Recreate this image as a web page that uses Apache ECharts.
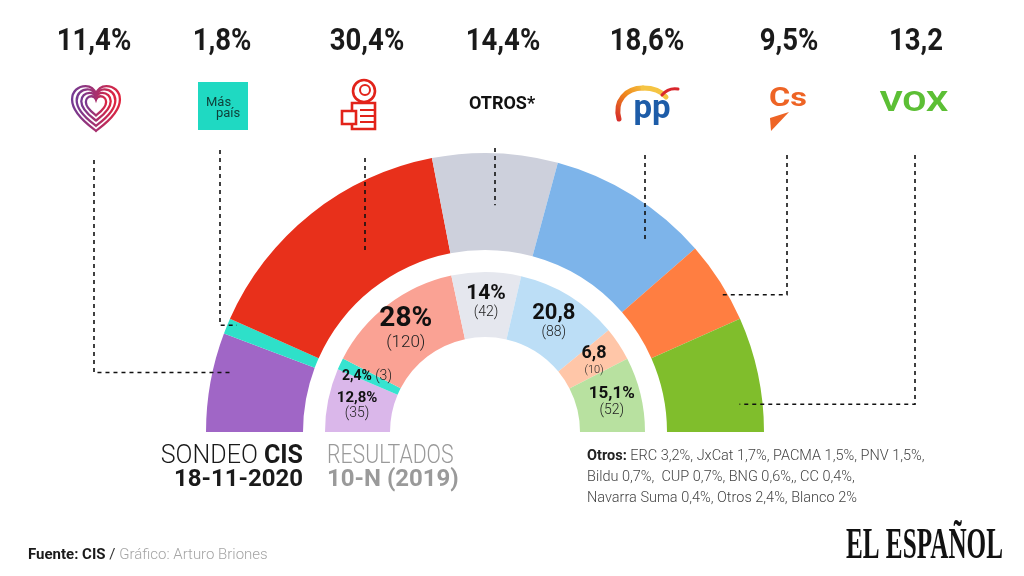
<!DOCTYPE html>
<html>
<head>
<meta charset="utf-8">
<script src="https://cdn.jsdelivr.net/npm/echarts@6/dist/echarts.min.js"></script>
<style>html,body{margin:0;padding:0;background:#fff}#c{width:1024px;height:576px}</style>
</head>
<body>
<div id="c"></div>
<script>
// ---------- DATA ----------
const parties = ['Unidas Podemos', 'Más País', 'PSOE', 'Otros', 'PP', 'Cs', 'Vox'];
const survey2020 = [11.4, 1.8, 30.4, 14.4, 18.6, 9.5, 13.2];      // Sondeo CIS 18-11-2020 (%)
const results2019 = [12.8, 2.4, 28, 14, 20.8, 6.8, 15.1];          // Resultados 10-N 2019 (%)
const seats2019 = [35, 3, 120, 42, 88, 10, 52];                    // escaños 10-N
const surveySuffix = ['%', '%', '%', '%', '%', '%', ''];
const resultSuffix = ['%', '%', '%', '%', '', '', '%'];
const otrosLines = [
  'ERC 3,2%, JxCat 1,7%, PACMA 1,5%, PNV 1,5%,',
  'Bildu 0,7%,  CUP 0,7%, BNG 0,6%,, CC 0,4%,',
  'Navarra Suma 0,4%, Otros 2,4%, Blanco 2%'
];

// ---------- STYLE / LAYOUT ----------
const outerColors = ['#A066C6', '#2EE0C9', '#E8301B', '#CDD0DC', '#7DB4EA', '#FF7E41', '#80BE2C'];
const innerColors = ['#DAB7EA', '#36E3D0', '#FAA294', '#E5E7EE', '#BCDEF6', '#FFC6A8', '#B8E1A0'];
const CX = 485, CY = 432;
const OUTER_R = [182, 279], INNER_R = [95, 160];
const labelX = [94, 222, 367, 503, 647, 789, 916];
const lineX = [94, 220, 365, 495, 645, 787, 915];
const lineTop = [160, 150, 158, 148, 155, 155, 155];
const leaderKind = ['elbow', 'elbow', 'vertical', 'vertical', 'vertical', 'elbow', 'elbow'];
const anchorR = [260, 270, 218, 227, 250, 272, 256];
const anchorFrac = [0.64, 0.8, 0.5, 0.5, 0.5, 0.63, 0.74];
const valSize = [15, 14, 28, 21, 22, 18, 17];
const seatSize = [14, 14, 17, 14, 14, 11, 14];

const fmt = v => String(v).replace('.', ',');
const FONT = 'Roboto, "Noto Sans", sans-serif';

// heart shape for the Podemos logo
echarts.graphic.registerShape('heart', echarts.graphic.extendShape({
  shape: { x: 0, y: 0, width: 100, height: 90 },
  buildPath: function (ctx, s) {
    const X = v => s.x + v / 100 * s.width;
    const Y = v => s.y + v / 90 * s.height;
    ctx.moveTo(X(50), Y(88));
    ctx.bezierCurveTo(X(46), Y(84), X(4), Y(58), X(4), Y(28));
    ctx.bezierCurveTo(X(4), Y(12), X(16), Y(2), X(30), Y(2));
    ctx.bezierCurveTo(X(40), Y(2), X(47), Y(8), X(50), Y(17));
    ctx.bezierCurveTo(X(53), Y(8), X(60), Y(2), X(70), Y(2));
    ctx.bezierCurveTo(X(84), Y(2), X(96), Y(12), X(96), Y(28));
    ctx.bezierCurveTo(X(96), Y(58), X(54), Y(84), X(50), Y(88));
    ctx.closePath();
  }
}));

// rich styles for inner labels
const rich = {};
valSize.forEach((s, i) => {
  rich['v' + i] = { fontFamily: FONT, fontWeight: 'bold', fontSize: s, color: '#111', lineHeight: s + 1 };
  rich['s' + i] = { fontFamily: FONT, fontWeight: 300, fontSize: seatSize[i], color: '#222', lineHeight: seatSize[i] + 2 };
});

const chart = echarts.init(document.getElementById('c'), null, { renderer: 'canvas' });

// ---------- leader lines computed from data ----------
const total = survey2020.reduce((a, b) => a + b, 0);
let cum = 0;
const leaders = survey2020.map((v, i) => {
  const a = (cum + v * anchorFrac[i]) / total * Math.PI;
  cum += v;
  const x = lineX[i];
  let pts;
  if (leaderKind[i] === 'vertical') {
    const dx = x - CX;
    const y = CY - Math.sqrt(anchorR[i] * anchorR[i] - dx * dx);
    pts = [[x, lineTop[i]], [x, y]];
  } else {
    const ax = CX - anchorR[i] * Math.cos(a);
    const ay = CY - anchorR[i] * Math.sin(a);
    pts = [[x, lineTop[i]], [x, ay], [ax, ay]];
  }
  return {
    type: 'polyline', z: 100, silent: true,
    shape: { points: pts },
    style: { stroke: '#111', lineWidth: 1.6, lineDash: [4, 4], fill: null }
  };
});

// ---------- top value labels ----------
const topLabels = survey2020.map((v, i) => ({
  type: 'text', z: 100, x: labelX[i], y: 42, scaleX: 0.86, silent: true,
  style: { text: fmt(v) + surveySuffix[i], fontFamily: FONT, fontWeight: 'bold', fontSize: 32, fill: '#1a1a1a', align: 'center', verticalAlign: 'middle' }
}));

// ---------- logos (approximations) ----------
const heartGrad = { type: 'linear', x: 0, y: 0, x2: 1, y2: 0, colorStops: [
  { offset: 0, color: '#6E3B96' }, { offset: 0.5, color: '#A7306E' }, { offset: 1, color: '#E4233A' }] };
const hearts = [[52, 47], [42, 38], [32, 29], [22, 20]].map((s, k) => ({
  type: 'heart', z: 100, silent: true,
  shape: { x: 96 - s[0] / 2, y: 85 + k * 3.6, width: s[0], height: s[1] },
  style: { fill: null, stroke: heartGrad, lineWidth: 2.3 }
}));

const ppGrad1 = { type: 'linear', x: 0, y: 1, x2: 1, y2: 0, colorStops: [
  { offset: 0, color: '#D3232C' }, { offset: 0.6, color: '#F08A1C' }, { offset: 1, color: '#F5C443' }] };

const logos = [
  ...hearts,
  { type: 'rect', z: 100, silent: true, shape: { x: 198, y: 82, width: 50, height: 48 }, style: { fill: '#1FD9C2' } },
  { type: 'text', z: 101, silent: true, x: 206, y: 103, style: { text: 'Más', fontFamily: FONT, fontSize: 13, fill: '#0F3F39', align: 'left', verticalAlign: 'middle' } },
  { type: 'text', z: 101, silent: true, x: 216, y: 114, style: { text: 'país', fontFamily: FONT, fontSize: 13, fill: '#0F3F39', align: 'left', verticalAlign: 'middle' } },
  // PSOE rose & fist
  { type: 'circle', z: 100, silent: true, shape: { cx: 364, cy: 91, r: 11 }, style: { fill: null, stroke: '#E2231A', lineWidth: 2.6 } },
  { type: 'circle', z: 100, silent: true, shape: { cx: 365, cy: 90, r: 5 }, style: { fill: null, stroke: '#E2231A', lineWidth: 2 } },
  { type: 'rect', z: 100, silent: true, shape: { x: 352, y: 103, width: 23, height: 26 }, style: { fill: null, stroke: '#E2231A', lineWidth: 2.6 } },
  { type: 'line', z: 100, silent: true, shape: { x1: 360, y1: 110, x2: 375, y2: 110 }, style: { stroke: '#E2231A', lineWidth: 2 } },
  { type: 'line', z: 100, silent: true, shape: { x1: 360, y1: 116, x2: 375, y2: 116 }, style: { stroke: '#E2231A', lineWidth: 2 } },
  { type: 'line', z: 100, silent: true, shape: { x1: 360, y1: 122, x2: 375, y2: 122 }, style: { stroke: '#E2231A', lineWidth: 2 } },
  { type: 'rect', z: 101, silent: true, shape: { x: 342, y: 111, width: 14, height: 13 }, style: { fill: '#fff', stroke: '#E2231A', lineWidth: 2.6 } },
  // OTROS*
  { type: 'text', z: 100, silent: true, x: 502, y: 104, style: { text: 'OTROS*', fontFamily: FONT, fontWeight: 'bold', fontSize: 18, fill: '#111', align: 'center', verticalAlign: 'middle' } },
  // PP
  { type: 'bezierCurve', z: 100, silent: true, shape: { x1: 619, y1: 119, cpx1: 614, cpy1: 101, cpx2: 626, cpy2: 88, x2: 643, y2: 88 }, style: { fill: null, stroke: ppGrad1, lineWidth: 5, lineCap: 'round' } },
  { type: 'bezierCurve', z: 100, silent: true, shape: { x1: 643, y1: 88, cpx1: 655, cpy1: 88, cpx2: 662, cpy2: 92, x2: 666, y2: 97 }, style: { fill: null, stroke: '#F5C443', lineWidth: 5, lineCap: 'round' } },
  { type: 'bezierCurve', z: 100, silent: true, shape: { x1: 662, y1: 95, cpx1: 667, cpy1: 89, cpx2: 672, cpy2: 88, x2: 678, y2: 89 }, style: { fill: null, stroke: '#D9262C', lineWidth: 3, lineCap: 'round' } },
  { type: 'text', z: 101, silent: true, x: 652, y: 110, style: { text: 'pp', fontFamily: FONT, fontWeight: 'bold', fontSize: 33, fill: '#1D5CA8', align: 'center', verticalAlign: 'middle' } },
  // Cs
  { type: 'text', z: 100, silent: true, x: 788, y: 100, scaleX: 1.3, style: { text: 'Cs', fontFamily: FONT, fontWeight: 'bold', fontSize: 25, fill: '#EE6425', align: 'center', verticalAlign: 'middle' } },
  { type: 'polygon', z: 100, silent: true, shape: { points: [[770, 118], [789, 112], [771, 131]] }, style: { fill: '#EE6425' } },
  // VOX
  { type: 'text', z: 100, silent: true, x: 914, y: 104, scaleX: 1.25, style: { text: 'VOX', fontFamily: FONT, fontWeight: 'bold', fontSize: 28, fill: '#5CBF35', align: 'center', verticalAlign: 'middle' } }
];

// ---------- bottom texts ----------
const texts = [
  { type: 'text', z: 100, silent: true, x: 303, y: 457, style: {
      text: '{l|SONDEO }{b|CIS}', align: 'right', verticalAlign: 'middle',
      rich: { l: { fontFamily: FONT, fontWeight: 300, fontSize: 25, fill: '#1a1a1a' }, b: { fontFamily: FONT, fontWeight: 'bold', fontSize: 25, fill: '#1a1a1a' } } } },
  { type: 'text', z: 100, silent: true, x: 303, y: 480, style: { text: '18-11-2020', fontFamily: FONT, fontWeight: 'bold', fontSize: 24, fill: '#1a1a1a', align: 'right', verticalAlign: 'middle' } },
  { type: 'text', z: 100, silent: true, x: 327, y: 457, scaleX: 0.85, style: { text: 'RESULTADOS', fontFamily: FONT, fontWeight: 300, fontSize: 25, fill: '#9a9a9a', align: 'left', verticalAlign: 'middle' } },
  { type: 'text', z: 100, silent: true, x: 327, y: 480, style: { text: '10-N (2019)', fontFamily: FONT, fontWeight: 'bold', fontSize: 24, fill: '#9a9a9a', align: 'left', verticalAlign: 'middle' } },
  ...otrosLines.map((t, i) => ({
    type: 'text', z: 100, silent: true, x: 587, y: 456 + i * 21, style: {
      text: (i === 0 ? '{b|Otros: }' : '') + '{r|' + t + '}', align: 'left', verticalAlign: 'middle',
      rich: { b: { fontFamily: FONT, fontWeight: 'bold', fontSize: 14.5, fill: '#222' }, r: { fontFamily: FONT, fontWeight: 300, fontSize: 14.5, fill: '#444' } } }
  })),
  { type: 'text', z: 100, silent: true, x: 28, y: 555, style: {
      text: '{b|Fuente: CIS}{n| / }{g|Gráfico: Arturo Briones}', align: 'left', verticalAlign: 'middle',
      rich: { b: { fontFamily: FONT, fontWeight: 'bold', fontSize: 15, fill: '#1a1a1a' }, n: { fontFamily: FONT, fontSize: 15, fill: '#333' }, g: { fontFamily: FONT, fontWeight: 300, fontSize: 15, fill: '#a5a5a5' } } } },
  { type: 'text', z: 100, silent: true, x: 1003, y: 546, scaleX: 0.56, style: { text: 'EL ESPAÑOL', fontFamily: '"Liberation Serif", "DejaVu Serif", serif', fontWeight: 'bold', fontSize: 45, fill: '#111', align: 'right', verticalAlign: 'middle' } }
];

const option = {
  animation: false,
  backgroundColor: '#ffffff',
  series: [
    {
      type: 'pie', name: 'Sondeo CIS', silent: true,
      center: [CX, CY], radius: OUTER_R,
      startAngle: 180, endAngle: 0, clockwise: true,
      avoidLabelOverlap: false,
      label: { show: false }, labelLine: { show: false },
      emphasis: { disabled: true },
      itemStyle: { borderWidth: 0 },
      data: survey2020.map((v, i) => ({ name: parties[i], value: v, itemStyle: { color: outerColors[i] } }))
    },
    {
      type: 'pie', name: 'Resultados 10-N', silent: true,
      center: [CX, CY], radius: INNER_R,
      startAngle: 180, endAngle: 0, clockwise: true,
      avoidLabelOverlap: false,
      labelLine: { show: false },
      emphasis: { disabled: true },
      itemStyle: { borderWidth: 0 },
      label: {
        show: true, position: 'inside', rich: rich,
        formatter: p => {
          const i = p.dataIndex;
          const v = '{v' + i + '|' + fmt(results2019[i]) + resultSuffix[i] + '}';
          const s = '{s' + i + '|(' + seats2019[i] + ')}';
          return i === 1 ? v + ' ' + s : v + '\n' + s;
        }
      },
      data: results2019.map((v, i) => ({ name: parties[i], value: v, itemStyle: { color: innerColors[i] } }))
    }
  ],
  graphic: { elements: [...leaders, ...topLabels, ...logos, ...texts] }
};
chart.setOption(option);
</script>
</body>
</html>
